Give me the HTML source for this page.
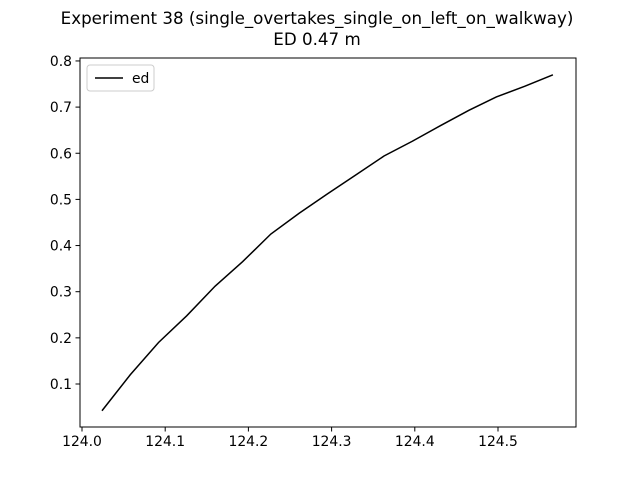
<!DOCTYPE html>
<html><head><meta charset="utf-8"><style>
body{margin:0;background:#fff;}
svg{display:block;font-family:"DejaVu Sans","Liberation Sans",sans-serif;}
</style></head><body>
<svg id="chart" width="640" height="480">
<rect width="640" height="480" fill="#fff"/>
<text x="317" y="24" text-anchor="middle" font-size="16.7">Experiment 38 (single_overtakes_single_on_left_on_walkway)</text>
<text x="317" y="45" text-anchor="middle" font-size="16.7">ED 0.47 m</text>
<g id="ticks"></g>
<path id="line" fill="none" stroke="#000" stroke-width="1.5"/>
<rect x="80" y="58" width="496" height="369" fill="none" stroke="#000" stroke-width="1"/>
<g>
<rect x="87" y="65" width="67" height="26" rx="3" fill="#fff" stroke="#ccc"/>
<line x1="95" y1="78" x2="123" y2="78" stroke="#000" stroke-width="1.5"/>
<text x="132" y="83" font-size="13.9">ed</text>
</g>
</svg>
<script>
const xs=[124.024,124.058,124.092,124.126,124.160,124.193,124.227,124.261,124.295,124.329,124.363,124.397,124.431,124.465,124.498,124.532,124.566];
const ys=[0.042,0.12,0.19,0.248,0.312,0.365,0.425,0.47,0.512,0.553,0.594,0.626,0.66,0.693,0.722,0.745,0.77];
const xTicks=[124.0,124.1,124.2,124.3,124.4,124.5];
const yTicks=[0.1,0.2,0.3,0.4,0.5,0.6,0.7,0.8];
function sx(v){return 82+(v-124)*832;}
function sy(v){return 384-(v-0.1)*461.5;}
const ns="http://www.w3.org/2000/svg";
const g=document.getElementById('ticks');
xTicks.forEach(t=>{
 const l=document.createElementNS(ns,'line');
 l.setAttribute('x1',sx(t));l.setAttribute('x2',sx(t));l.setAttribute('y1',427);l.setAttribute('y2',431.5);l.setAttribute('stroke','#000');
 
 
 g.appendChild(l);
 const tx=document.createElementNS(ns,'text');
 tx.setAttribute('x',sx(t));tx.setAttribute('y',446);tx.setAttribute('text-anchor','middle');tx.setAttribute('font-size','13.9');
 tx.textContent=t.toFixed(1);
 
 
 g.appendChild(tx);
});
yTicks.forEach(t=>{
 const l=document.createElementNS(ns,'line');
 l.setAttribute('x1',75.5);l.setAttribute('x2',80);l.setAttribute('y1',sy(t));l.setAttribute('y2',sy(t));l.setAttribute('stroke','#000');
 
 
 g.appendChild(l);
 const tx=document.createElementNS(ns,'text');
 tx.setAttribute('x',72);tx.setAttribute('y',sy(t)+5);tx.setAttribute('text-anchor','end');tx.setAttribute('font-size','13.9');
 tx.textContent=t.toFixed(1);
 
 
 g.appendChild(tx);
});
document.getElementById('line').setAttribute('d',xs.map((x,i)=>(i?'L':'M')+sx(x)+','+sy(ys[i])).join(' '));
</script>
</body></html>
